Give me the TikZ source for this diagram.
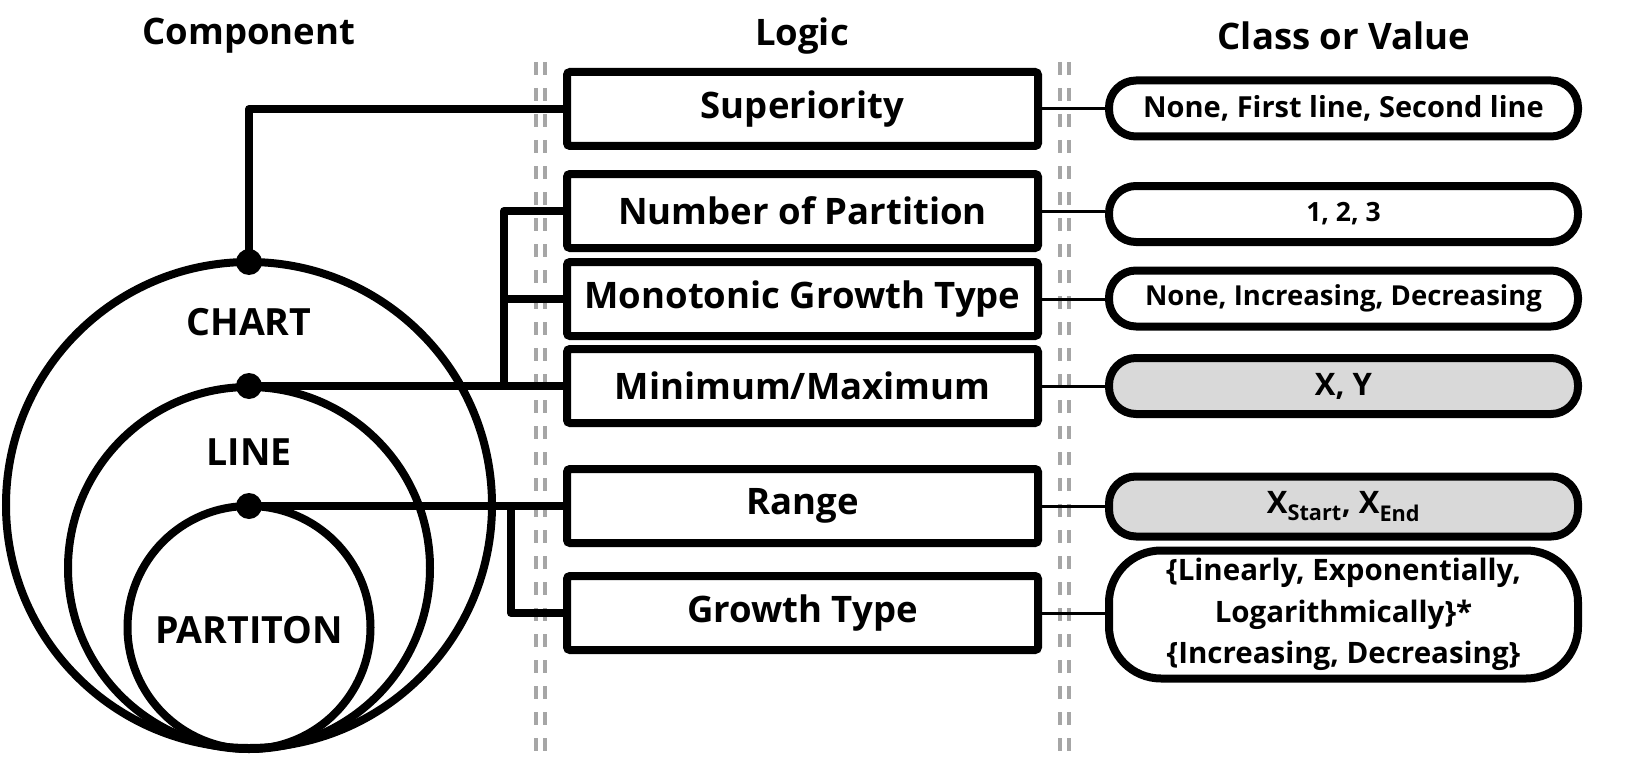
\documentclass[tikz,border=0pt]{standalone}
\usepackage{fontspec}
\setmainfont{Open Sans}
\definecolor{dashgray}{RGB}{166,166,166}
\definecolor{fillgray}{RGB}{217,217,217}
\begin{document}
\begin{tikzpicture}[x=1pt,y=-1pt,
  thick line/.style={line width=8pt, line join=round},
  thin line/.style={line width=3pt},
  ring/.style={line width=8pt},
  dashline/.style={line width=4pt, color=dashgray, dash pattern=on 13pt off 13pt},
  logicbox/.style={draw, line width=8pt, rounded corners=3pt, minimum width=471pt, minimum height=74pt, inner sep=0pt, fill=white, font=\fontsize{36.5}{40}\selectfont\bfseries},
  pill/.style={draw, line width=8pt, rounded corners=27pt, minimum width=469pt, minimum height=56pt, inner sep=0pt, fill=white, font=\fontsize{27.5}{32}\selectfont\bfseries},
  grey pill/.style={pill, fill=fillgray},
  dotn/.style={circle, fill=black, minimum size=26pt, inner sep=0pt},
  title/.style={font=\fontsize{36.5}{40}\selectfont\bfseries},
  ringlabel/.style={font=\fontsize{37.5}{40}\selectfont\bfseries}
]
\useasboundingbox (0,0) rectangle (1630,757);

% dashed separators
\draw[dashline] (536,62) -- (536,757);
\draw[dashline] (545,62) -- (545,757);
\draw[dashline] (1060,62) -- (1060,757);
\draw[dashline] (1069,62) -- (1069,757);

% titles
\node[title] (t1) at (249,36) {Component};
\node[title] (t2) at (802,36) {Logic};
\node[title] (t3) at (1344,36) {Class or Value};

% circles
\draw[ring] (249,505) circle (243);
\draw[ring] (249,568) circle (181);
\draw[ring] (249,627.5) circle (121.5);

\node[ringlabel] (chart) at (249,322) {CHART};
\node[ringlabel] (line) at (249,452) {LINE};
\node[ringlabel] (part) at (249,630) {PARTITON};

% logic boxes
\node[logicbox] (sup) at (802.5,109) {Superiority};
\node[logicbox] (np) at (802.5,211) {Number of Partition};
\node[logicbox] (mono) at (802.5,299) {Monotonic Growth Type};
\node[logicbox] (mm) at (802.5,386) {Minimum/Maximum};
\node[logicbox] (rng) at (802.5,506) {Range};
\node[logicbox] (gt) at (802.5,613) {Growth Type};

% value pills
\node[pill, font=\fontsize{29}{32}\selectfont\bfseries] (v1) at (1343.5,108.5) {None, First line, Second line};
\node[pill, font=\fontsize{26.5}{28}\selectfont\bfseries] (v2) at (1343.5,214) {1, 2, 3};
\node[pill] (v3) at (1343.5,298.5) {None, Increasing, Decreasing};
\node[grey pill, font=\fontsize{31}{34}\selectfont\bfseries] (v4) at (1343.5,386) {X, Y};
\node[grey pill, minimum height=60pt, font=\fontsize{31}{34}\selectfont\bfseries] (v5) at (1343.5,506.5) {X\textsubscript{Start}, X\textsubscript{End}};
\node[pill, minimum height=128pt, rounded corners=52pt, align=center, font=\fontsize{29.5}{41.5}\selectfont\bfseries] (v6) at (1343.5,614.5) {\{Linearly, Exponentially,\\Logarithmically\}*\\\{Increasing, Decreasing\}};

% dots
\node[dotn] (cdot) at (249,262) {};
\node[dotn] (ldot) at (249,386) {};
\node[dotn] (pdot) at (249,506) {};

\coordinate (lj) at (504,386);
\coordinate (pj) at (511,506);

% connectors component -> logic
\draw[thick line] (cdot.center) |- (sup.west);
\draw[thick line] (ldot.center) -- (mm.west);
\draw[thick line] (np.west) -| (lj);
\draw[thick line] (mono.west) -- (mono.west -| lj);
\draw[thick line] (pdot.center) -- (rng.west);
\draw[thick line] (gt.west) -| (pj);

% connectors logic -> value
\draw[thin line] (sup.east) -- (sup.east -| v1.west);
\draw[thin line] (np.east) -- (np.east -| v2.west);
\draw[thin line] (mono.east) -- (mono.east -| v3.west);
\draw[thin line] (mm.east) -- (mm.east -| v4.west);
\draw[thin line] (rng.east) -- (rng.east -| v5.west);
\draw[thin line] (gt.east) -- (gt.east -| v6.west);
\end{tikzpicture}
\end{document}
